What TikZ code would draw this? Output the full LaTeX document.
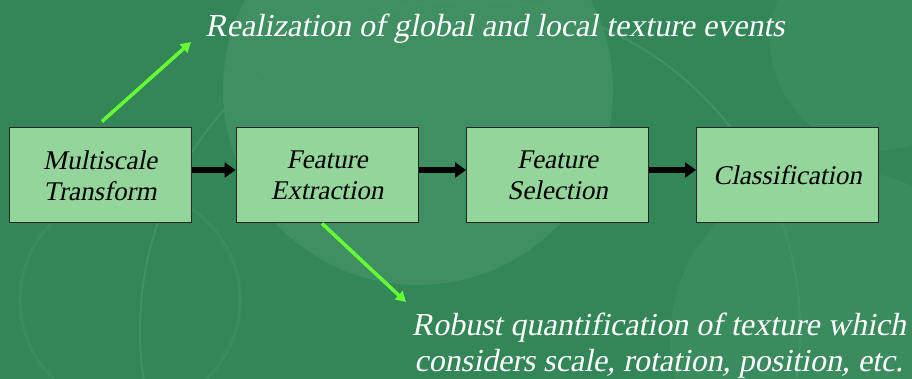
\documentclass[tikz,border=0pt]{standalone}
\usepackage{fontspec}
\newfontfamily\slideup{Liberation Serif}
\newfontfamily\slidefont{Liberation Serif}[FakeSlant=0.2]
\usetikzlibrary{positioning,calc,arrows.meta}
\definecolor{slidegreen}{RGB}{50,134,88}
\definecolor{glowgreen}{RGB}{120,185,150}
\definecolor{boxgreen}{RGB}{147,213,154}
\definecolor{limegreen}{RGB}{102,255,51}

\tikzset{
	stagebox/.style={draw=black!85, line width=1pt, fill=boxgreen, minimum width=182pt, minimum height=95pt, align=center, font=\slidefont\fontsize{27}{31}\selectfont},
	flow/.style={line width=6pt, -{Triangle[length=11pt,width=15pt]}},
	hint/.style={limegreen, line width=3.5pt, -{Triangle[length=10pt,width=11pt]}},
	note/.style={text=white, align=center, inner sep=0pt, font=\slidefont\fontsize{32}{36}\selectfont}
}

\begin{document}
\begin{tikzpicture}[x=1pt,y=-1pt]
				% slide background
				\fill[slidegreen] (0,0) rectangle (912,379);
				\useasboundingbox (0,0) rectangle (912,379);
				\begin{scope}
					\clip (0,0) rectangle (912,379);
					\fill[slidegreen!88!glowgreen] (840,340) circle (170);
					\fill[slidegreen!88!glowgreen] (880,40) circle (110);
					\fill[slidegreen!82!glowgreen] (418,90) circle (195);
					\draw[slidegreen!78!glowgreen, line width=2pt] (470,330) circle (330);
					\draw[slidegreen!88!glowgreen, line width=3pt] (130,300) circle (110);
				\end{scope}
				% processing chain
				\node[stagebox] (mst) at (100,175.5) {Multiscale\\Transform};
				\node[stagebox] (fext) at (327,175.5) {Feature\\Extraction};
				\node[stagebox] (fsel) at (557.5,175.5) {Feature\\Selection};
				\node[stagebox] (cls) at (787.5,175.5) {Classification};
				\draw[flow] ([yshift=5.5pt]mst.east) -- ([yshift=5.5pt]fext.west);
				\draw[flow] ([yshift=5.5pt]fext.east) -- ([yshift=5.5pt]fsel.west);
				\draw[flow] ([yshift=5.5pt]fsel.east) -- ([yshift=5.5pt]cls.west);
				% remarks
				\node[note, anchor=base west] (events) at (205,36.5) {Realization of global and local texture events};
				\node[note, anchor=base east] (robust) at (906,371) {Robust quantification of texture which\\considers scale, rotation, position, etc.};
				\coordinate (tipA) at (191,42);
				\coordinate (tipB) at (406,302);
				\draw[hint] ([shift={(2pt,6pt)}]mst.north) -- (tipA);
				\draw[hint] ([xshift=-5pt]fext.south) -- (tipB);
			\end{tikzpicture}
\end{document}
